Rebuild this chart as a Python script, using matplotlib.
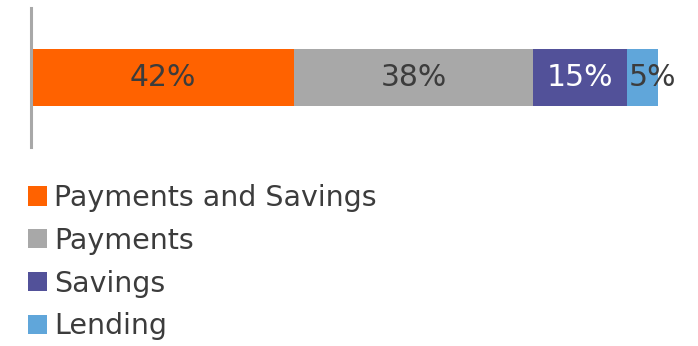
import matplotlib
matplotlib.use("Agg")
import matplotlib.pyplot as plt
from matplotlib.patches import Patch

categories = ["Payments and Savings", "Payments", "Savings", "Lending"]
shares = [42, 38, 15, 5]
colors = ["#FF6200", "#A8A8A8", "#525199", "#60A6DA"]
label_colors = ["#3c3c3c", "#3c3c3c", "#ffffff", "#3c3c3c"]

W, H = 698, 346
fig = plt.figure(figsize=(W / 100, H / 100), dpi=100)
ax = fig.add_axes([31 / W, 1 - 147 / H, 627 / W, 139 / H])

left = 0
for cat, val, col, lc in zip(categories, shares, colors, label_colors):
    ax.barh(0, val, left=left, height=0.41, color=col, label=cat)
    if val < 8:
        # narrow segment: start the label at the segment's left edge
        ax.text(left + 0.4, 0, f"{val}%", ha="left", va="center",
                fontsize=21.5, color=lc)
    else:
        ax.text(left + val / 2, 0, f"{val}%", ha="center", va="center",
                fontsize=21.5, color=lc)
    left += val

ax.set_xlim(0, 100)
ax.set_ylim(-0.5, 0.5)
for s in ["top", "right", "bottom"]:
    ax.spines[s].set_visible(False)
ax.spines["left"].set_color("#A8A8A8")
ax.spines["left"].set_linewidth(2.2)
ax.set_xticks([])
ax.set_yticks([])

handles = [Patch(facecolor=c, edgecolor="none") for c in colors]
leg = fig.legend(handles, categories, loc="upper left",
                 bbox_to_anchor=(28 / W, 1 - 184 / H), frameon=False,
                 fontsize=20.5, handlelength=0.65, handleheight=0.65,
                 handletextpad=0.28, labelspacing=0.52, borderpad=0, borderaxespad=0)
for t in leg.get_texts():
    t.set_color("#3c3c3c")

fig.savefig("out.png", dpi=100)
